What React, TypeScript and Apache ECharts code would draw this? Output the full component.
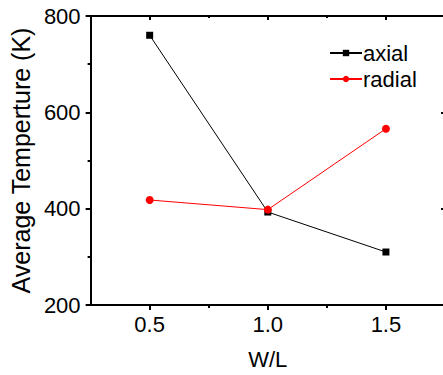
import React, { useEffect, useRef } from "react";
import * as echarts from "echarts";

const wlValues = [0.5, 1.0, 1.5];
const axialValues = [760, 393, 310];
const radialValues = [418, 398, 566];
const xMajorTicks = [0.5, 1.0, 1.5];
const xMinorTicks = [0.75, 1.25];
const seriesNames = ["axial", "radial"];

const FONT = "Liberation Sans, Arial, sans-serif";
const FS = 22;

export default function App() {
  const ref = useRef<HTMLDivElement>(null);
  useEffect(() => {
    if (!ref.current) return;
    const chart = echarts.init(ref.current, null, { renderer: "svg" });
    const xBase = { type: "value", min: 0.25, max: 1.75, splitLine: { show: false } };
    const yBase = { type: "value", min: 200, max: 800, interval: 200, splitLine: { show: false } };
    const lineStyle = { color: "#000", width: 2 };
    chart.setOption({
      animation: false,
      grid: { left: 86, top: 16, right: 15, bottom: 66 },
      legend: {
        orient: "vertical",
        left: 324,
        top: 37,
        itemWidth: 32,
        itemHeight: 8,
        itemGap: 4,
        textStyle: { fontFamily: FONT, fontSize: FS, color: "#000", padding: [0, 0, 0, -4] },
        data: seriesNames,
      },
      xAxis: [
        {
          ...xBase,
          position: "bottom",
          axisLine: { lineStyle },
          axisTick: { customValues: xMajorTicks, length: 5, lineStyle },
          axisLabel: {
            customValues: xMajorTicks,
            formatter: (v: number) => v.toFixed(1),
            fontFamily: FONT,
            fontSize: FS,
            color: "#000",
            margin: 8,
          },
          name: "W/L",
          nameLocation: "middle",
          nameGap: 43,
          nameTextStyle: { fontFamily: FONT, fontSize: FS, color: "#000" },
        },
        {
          ...xBase,
          position: "bottom",
          axisLine: { show: false },
          axisTick: { customValues: xMinorTicks, length: 3, lineStyle },
          axisLabel: { show: false },
        },
        {
          ...xBase,
          position: "top",
          axisLine: { lineStyle },
          axisTick: { inside: true, customValues: xMajorTicks, length: 4, lineStyle },
          axisLabel: { show: false },
        },
        {
          ...xBase,
          position: "top",
          axisLine: { show: false },
          axisTick: { inside: true, customValues: xMinorTicks, length: 2, lineStyle },
          axisLabel: { show: false },
        },
      ],
      yAxis: [
        {
          ...yBase,
          position: "left",
          axisLine: { lineStyle },
          axisTick: { length: 5, lineStyle },
          minorTick: { show: true, splitNumber: 2, length: 3, lineStyle },
          axisLabel: { fontFamily: FONT, fontSize: FS, color: "#000", margin: 10 },
          name: "Average Temperture (K)",
          nameLocation: "middle",
          nameGap: 54,
          nameTextStyle: { fontFamily: FONT, fontSize: 25, color: "#000" },
        },
        {
          ...yBase,
          position: "right",
          axisLine: { lineStyle },
          axisTick: { inside: true, length: 4, lineStyle },
          minorTick: { show: true, splitNumber: 2, length: 2, lineStyle },
          axisLabel: { show: false },
        },
      ],
      series: [
        {
          name: seriesNames[0],
          type: "line",
          data: wlValues.map((x, i) => [x, axialValues[i]]),
          symbol: "rect",
          symbolSize: 7,
          lineStyle: { color: "#000", width: 1 },
          itemStyle: { color: "#000" },
          z: 3,
        },
        {
          name: seriesNames[1],
          type: "line",
          data: wlValues.map((x, i) => [x, radialValues[i]]),
          symbol: "circle",
          symbolSize: 8,
          lineStyle: { color: "#ff0000", width: 1 },
          itemStyle: { color: "#ff0000" },
          z: 4,
        },
      ],
    });
    return () => chart.dispose();
  }, []);
  return (
    <div
      ref={ref}
      style={{ position: "fixed", left: 0, top: 0, width: 460, height: 375, background: "#fff" }}
    />
  );
}
